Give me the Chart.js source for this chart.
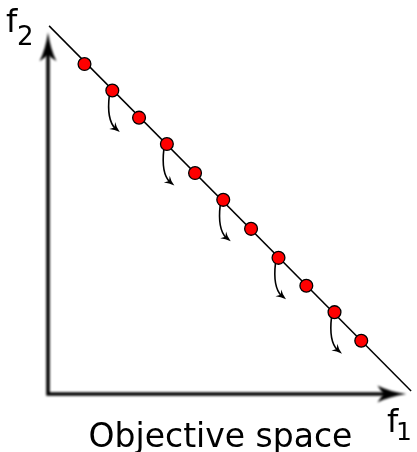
<!DOCTYPE html>
<html>
<head>
<meta charset="utf-8">
<script src="https://cdn.jsdelivr.net/npm/chart.js"></script>
<style>
body{
	margin: 0;
	background: #fff;
}
</style>
</head>
<body>
<canvas id="frontChart" width="417" height="452"></canvas>

<script>
    // Solutions on the front (objective values)
    var f1Values = [1.01, 1.78, 2.52, 3.29, 4.07, 4.85, 5.62, 6.38, 7.15, 7.93, 8.67];
    var f2Values = [8.99, 8.27, 7.53, 6.81, 6.02, 5.29, 4.50, 3.71, 2.95, 2.23, 1.45];
    // The straight front the points sit on
    var frontF1 = [0.03, 10.05];
    var frontF2 = [10.03, 0.08];
    // Points that get a small "moving down" arrow
    var driftIndex = [1, 3, 5, 7, 9];
    // Where the f1 / f2 axis arrows end
    var axisEnd = [9.92, 9.86];
    var axisLabels = ["f", "1", "f", "2", "Objective space"];

    var FONT = '"DejaVu Sans", sans-serif';

    function arrowHead(ctx, x, y, angle, len, half, notch) {
        ctx.save();
        ctx.translate(x, y);
        ctx.rotate(angle);
        ctx.beginPath();
        ctx.moveTo(0, 0);
        ctx.quadraticCurveTo(-len * 0.6, half * 0.3, -len, half);
        ctx.lineTo(-len * notch, 0);
        ctx.lineTo(-len, -half);
        ctx.quadraticCurveTo(-len * 0.6, -half * 0.3, 0, 0);
        ctx.closePath();
        ctx.fill();
        ctx.restore();
    }

    // f1 / f2 axes with big arrow heads
    var axesPlugin = {
        id: "objAxes",
        beforeDatasetsDraw: function (chart) {
            var ctx = chart.ctx;
            var xs = chart.scales.x, ys = chart.scales.y;
            var x0 = xs.getPixelForValue(0), y0 = ys.getPixelForValue(0);
            var xt = xs.getPixelForValue(axisEnd[0]);
            var yt = ys.getPixelForValue(axisEnd[1]);
            ctx.save();
            ctx.filter = "blur(0.8px)";
            ctx.strokeStyle = "#000";
            ctx.fillStyle = "#000";
            ctx.lineWidth = 3.6;
            ctx.lineJoin = "miter";
            ctx.beginPath();
            ctx.moveTo(x0, yt + 20);
            ctx.lineTo(x0, y0);
            ctx.lineTo(xt - 20, y0);
            ctx.stroke();
            arrowHead(ctx, x0, yt, -Math.PI / 2, 29, 8.5, 0.8);
            arrowHead(ctx, xt, y0, 0, 29, 8.5, 0.8);
            ctx.restore();
        }
    };

    // small curved arrows hanging under some of the points
    var driftPlugin = {
        id: "drift",
        beforeDatasetsDraw: function (chart) {
            var ctx = chart.ctx;
            var meta = chart.getDatasetMeta(0);
            ctx.save();
            ctx.strokeStyle = "#000";
            ctx.fillStyle = "#000";
            ctx.lineWidth = 1.6;
            driftIndex.forEach(function (i) {
                var p = meta.data[i];
                var x = p.x, y = p.y;
                ctx.beginPath();
                ctx.moveTo(x - 3, y + 5);
                ctx.bezierCurveTo(x - 5, y + 22, x - 3, y + 32, x + 3, y + 38);
                ctx.stroke();
                arrowHead(ctx, x + 7.5, y + 41.5, Math.atan2(6, 7), 10, 4.5, 0.7);
            });
            ctx.restore();
        }
    };

    var labelPlugin = {
        id: "labels",
        afterDraw: function (chart) {
            var ctx = chart.ctx;
            ctx.save();
            ctx.fillStyle = "#000";
            ctx.textBaseline = "alphabetic";
            ctx.textAlign = "left";
            ctx.font = "32px " + FONT;
            ctx.fillText(axisLabels[2], 6, 32);
            ctx.fillText(axisLabels[0], 387, 432);
            ctx.font = "26px " + FONT;
            ctx.fillText(axisLabels[3], 17, 45);
            ctx.font = "25px " + FONT;
            ctx.fillText(axisLabels[1], 396, 440);
            ctx.font = "33px " + FONT;
            ctx.textAlign = "center";
            ctx.fillText(axisLabels[4], 220.5, 447);
            ctx.restore();
        }
    };

    var points = f1Values.map(function (v, i) { return { x: v, y: f2Values[i] }; });
    var front = frontF1.map(function (v, i) { return { x: v, y: frontF2[i] }; });

    new Chart(document.getElementById("frontChart"), {
        type: "scatter",
        data: {
            datasets: [
                {
                    label: "solutions",
                    data: points,
                    pointRadius: 6.4,
                    pointBackgroundColor: "#ff0000",
                    pointBorderColor: "#000",
                    pointBorderWidth: 1.3,
                    clip: false
                },
                {
                    type: "line",
                    label: "front",
                    data: front,
                    borderColor: "#000",
                    borderWidth: 1.5,
                    pointRadius: 0,
                    clip: false
                }
            ]
        },
        options: {
            responsive: false,
            animation: false,
            events: [],
            layout: { padding: { left: 48, right: 4, top: 27, bottom: 58 } },
            scales: {
                x: { type: "linear", display: false, min: 0, max: 10 },
                y: { type: "linear", display: false, min: 0, max: 10 }
            },
            plugins: {
                legend: { display: false },
                tooltip: { enabled: false }
            }
        },
        plugins: [axesPlugin, driftPlugin, labelPlugin]
    });
</script>
</body>
</html>
